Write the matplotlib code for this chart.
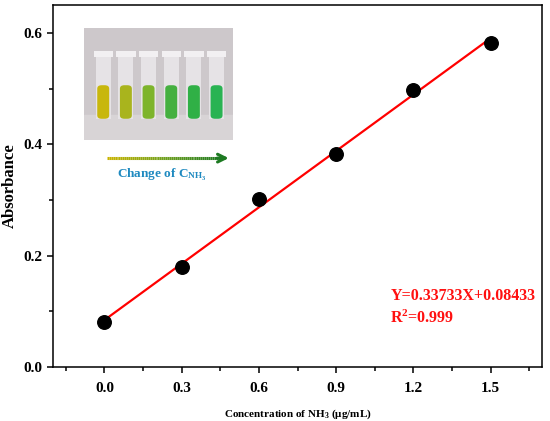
import numpy as np
import matplotlib
matplotlib.use("Agg")
import matplotlib.pyplot as plt
from matplotlib.patches import Rectangle, FancyBboxPatch
from matplotlib.collections import LineCollection
from matplotlib.colors import LinearSegmentedColormap

plt.rcParams['font.family'] = ['Liberation Serif', 'DejaVu Serif']
plt.rcParams['font.weight'] = 'bold'
plt.rcParams['mathtext.fontset'] = 'custom'
plt.rcParams['mathtext.rm'] = 'Liberation Serif:bold'
plt.rcParams['mathtext.bf'] = 'Liberation Serif:bold'
plt.rcParams['mathtext.it'] = 'Liberation Serif:bold'

# data
conc = [0.0, 0.3, 0.6, 0.9, 1.2, 1.5]
absorb = [0.081, 0.179, 0.301, 0.383, 0.497, 0.582]
slope, intercept = 0.33733, 0.08433
r2 = 0.999
xticks = [0.0, 0.3, 0.6, 0.9, 1.2, 1.5]
yticks = [0.0, 0.2, 0.4, 0.6]

# colours of the liquid in the six tubes of the photo
tube_colors = ['#c8b70c', '#a9b41d', '#7db42b', '#45b040', '#30b046', '#29b352']

fig = plt.figure(figsize=(5.5, 4.21), dpi=100)
ax = fig.add_axes([0.0964, 0.1283, 0.8891, 0.8598])

# fit line and points
xf = np.array([conc[0], conc[-1]])
ax.plot(xf, slope * xf + intercept, color='#ff0000', lw=1.6, zorder=2)
ax.scatter(conc, absorb, s=95, color='black', zorder=3)

ax.set_xlim(-0.2, 1.7)
ax.set_ylim(0, 0.65)
ax.set_xticks(xticks)
ax.set_xticklabels(['%.1f' % v for v in xticks])
ax.set_yticks(yticks)
ax.set_yticklabels(['%.1f' % v for v in yticks])
ax.set_xticks(np.arange(-0.15, 1.7, 0.3), minor=True)
ax.set_yticks([0.1, 0.3, 0.5], minor=True)
ax.tick_params(which='major', direction='out', length=4.5, width=1.1, labelsize=11)
ax.tick_params(which='minor', direction='out', length=3, width=1.1)
ax.tick_params(axis='x', pad=6)
ax.tick_params(axis='y', pad=3)
for s in ax.spines.values():
    s.set_linewidth(1.1)

ax.set_ylabel('Absorbance', fontsize=12, fontweight='bold', labelpad=4)
ax.set_xlabel(r'Concentration of NH$_3$ ($\mathrm{\mu}$g/mL)', fontsize=8,
              fontweight='bold', labelpad=9)

ax.text(0.69, 0.195, 'Y=0.33733X+0.08433', transform=ax.transAxes,
        color='#ff1010', fontsize=11.5, fontweight='bold', va='center')
ax.text(0.69, 0.135, 'R$^2$=%.3f' % r2, transform=ax.transAxes,
        color='#ff1010', fontsize=11.5, fontweight='bold', va='center')

# photo of the tubes (drawn)
ins = ax.inset_axes([0.063, 0.627, 0.305, 0.309])
ins.set_xlim(0, 1)
ins.set_ylim(0, 1)
ins.axis('off')
ins.add_patch(Rectangle((0, 0), 1, 1, color='#cdc8cb'))
ins.add_patch(Rectangle((0, 0), 1, 0.22, color='#d8d4d6'))
centers = np.linspace(0.13, 0.89, len(tube_colors))
for cx, c in zip(centers, tube_colors):
    w = 0.1
    ins.add_patch(Rectangle((cx - w / 2, 0.19), w, 0.57, color='#e6e3e6', lw=0))
    ins.add_patch(Rectangle((cx - w / 2 - 0.015, 0.74), w + 0.03, 0.06, color='#f2f0f2', lw=0))
    ins.add_patch(FancyBboxPatch((cx - w / 2 + 0.01, 0.19), w - 0.02, 0.3,
                                 boxstyle='round,pad=0.0,rounding_size=0.03',
                                 color=c, lw=0))

# gradient arrow
cmap = LinearSegmentedColormap.from_list('arr', ['#c9b400', '#6fa01e', '#1d7a22'])
xs = np.linspace(0.11, 0.345, 60)
pts = np.array([xs, np.full_like(xs, 0.577)]).T.reshape(-1, 1, 2)
segs = np.concatenate([pts[:-1], pts[1:]], axis=1)
lc = LineCollection(segs, colors=cmap(np.linspace(0, 1, len(segs))), lw=2.2,
                    transform=ax.transAxes)
ax.add_collection(lc)
ax.annotate('', xy=(0.365, 0.577), xytext=(0.33, 0.577), xycoords='axes fraction',
            arrowprops=dict(arrowstyle='->', color='#1d7a22', lw=2.2,
                            mutation_scale=14))
ax.text(0.223, 0.53, r'Change of C$_{\mathregular{NH_3}}$', transform=ax.transAxes,
        color='#1f8ac0', fontsize=9.5, fontweight='bold', ha='center', va='center')

fig.savefig('out.png', dpi=100)
